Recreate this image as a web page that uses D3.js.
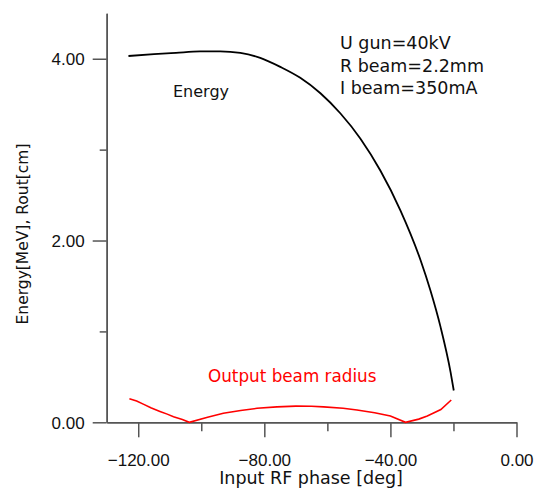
<!DOCTYPE html>
<html>
<head>
<meta charset="utf-8">
<script src="https://cdn.jsdelivr.net/npm/d3@7"></script>
<style>
  body { margin: 0; background: #fff; }
  text { font-family: "DejaVu Sans", sans-serif; }
</style>
</head>
<body>
<svg class="chart"></svg>
<script>
'use strict'

// energy curve [MeV] vs input phase [deg]
const energyPhase = [-123.1, -115, -108, -100.4, -94, -87.6, -81.3, -74.9, -68.6, -62.2, -55.9, -49.5, -43.2, -36.8, -30.4, -27.3, -24.1, -20.9, -19.9]
const energyValues = [4.03, 4.05, 4.065, 4.08, 4.082, 4.065, 4.01, 3.91, 3.79, 3.62, 3.40, 3.12, 2.77, 2.33, 1.78, 1.45, 1.05, 0.55, 0.35]

// output beam radius [cm]
const radiusPhase = [-122.8, -120.5, -118.4, -116, -113.1, -110.8, -108.8, -106, -103.8, -98, -93, -87.5, -82.3, -76, -70, -65, -61.2, -55, -50.6, -45, -40, -35.2, -31, -28.3, -24, -20.7]
const radiusValues = [0.26, 0.235, 0.20, 0.16, 0.12, 0.09, 0.06, 0.03, 0, 0.055, 0.10, 0.13, 0.154, 0.17, 0.178, 0.176, 0.17, 0.155, 0.135, 0.105, 0.07, 0, 0.035, 0.07, 0.14, 0.245]

const xMajor = [-120, -80, -40, 0]
const xMinor = [-100, -60, -20]
const yMajor = [0, 2, 4]
const yMinor = [1, 3]
const notes = ['U gun=40kV', 'R beam=2.2mm', 'I beam=350mA']

const width = 538
const height = 489
const axisColor = '#555'

const svg = d3.select('.chart')
  .attr('width', width)
  .attr('height', height)

const x = d3.scaleLinear().domain([-130, 0]).range([106.7, 516.5])
const y = d3.scaleLinear().domain([0, 4.5]).range([422.3, 13.3])

// x axis: minor ticks then major ticks with labels
const xAxisG = svg.append('g').attr('transform', `translate(0,${y(0)})`)
xAxisG.call(d3.axisBottom(x).tickValues(xMinor).tickSize(9).tickSizeOuter(0).tickFormat(''))
xAxisG.append('g').call(d3.axisBottom(x).tickValues(xMajor).tickSize(15).tickSizeOuter(0).tickFormat(d3.format('.2f')))

// y axis
const yAxisG = svg.append('g').attr('transform', `translate(${x(-130)},0)`)
yAxisG.call(d3.axisLeft(y).tickValues(yMinor).tickSize(7).tickSizeOuter(0).tickFormat(''))
yAxisG.append('g').call(d3.axisLeft(y).tickValues(yMajor).tickSize(14).tickSizeOuter(0).tickFormat(d3.format('.2f')))

svg.selectAll('.domain').attr('stroke', axisColor).attr('stroke-width', 1.5)
svg.selectAll('.tick line').attr('stroke', axisColor).attr('stroke-width', 1.5)
svg.selectAll('.tick text')
  .attr('fill', '#111')
  .style('font-family', '"Liberation Sans", sans-serif')
  .style('font-size', '17px')
xAxisG.selectAll('.tick text').attr('dy', null).attr('y', 0).attr('transform', 'translate(0,43.5)')
yAxisG.selectAll('.tick text').attr('dy', '0.35em').attr('x', -22)

// axis titles
svg.append('text')
  .attr('x', 311)
  .attr('y', 484)
  .attr('text-anchor', 'middle')
  .style('font-size', '17.5px')
  .attr('fill', '#111')
  .text('Input RF phase [deg]')

svg.append('text')
  .attr('transform', 'translate(28,234) rotate(-90)')
  .attr('text-anchor', 'middle')
  .style('font-size', '15.5px')
  .attr('fill', '#111')
  .text('Energy[MeV], Rout[cm]')

// curves
const energyLine = d3.line()
  .x((d, i) => x(energyPhase[i]))
  .y(d => y(d))
  .curve(d3.curveMonotoneX)

svg.append('path')
  .datum(energyValues)
  .attr('d', energyLine)
  .attr('fill', 'none')
  .attr('stroke', '#000')
  .attr('stroke-width', 1.8)

const radiusLine = d3.line()
  .x((d, i) => x(radiusPhase[i]))
  .y(d => y(d))

svg.append('path')
  .datum(radiusValues)
  .attr('d', radiusLine)
  .attr('fill', 'none')
  .attr('stroke', '#ff0000')
  .attr('stroke-width', 1.6)

// labels inside plot
svg.append('text')
  .attr('x', 173)
  .attr('y', 97)
  .style('font-size', '16px')
  .attr('fill', '#111')
  .text('Energy')

svg.append('text')
  .attr('x', 208)
  .attr('y', 382)
  .style('font-size', '16.8px')
  .attr('fill', '#ff0000')
  .text('Output beam radius')

svg.append('g')
  .selectAll('text')
  .data(notes)
  .enter()
  .append('text')
  .attr('x', 340)
  .attr('y', (d, i) => 49 + i * 22.5)
  .style('font-size', '17.5px')
  .attr('fill', '#111')
  .text(d => d)
</script>
</body>
</html>
